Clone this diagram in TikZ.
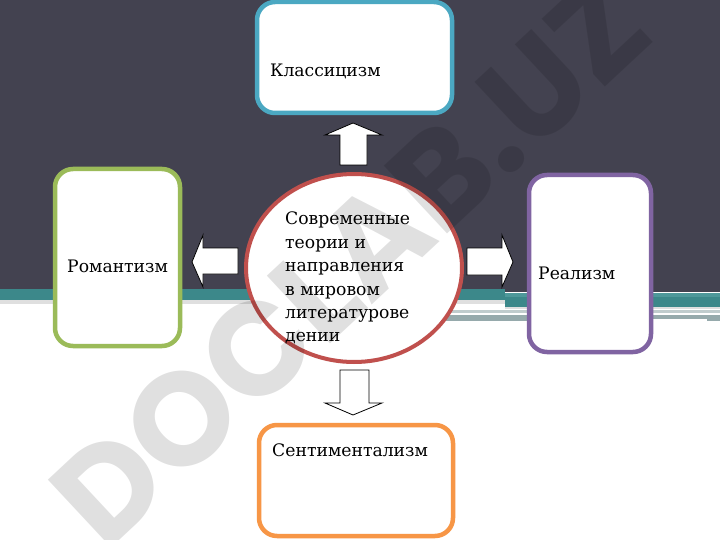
\documentclass[tikz,border=0pt]{standalone}
\usepackage{fontspec}
\setmainfont{DejaVu Serif}
\newfontfamily\wmfont{Poppins}
\usetikzlibrary{shapes.geometric}
\definecolor{bgdark}{RGB}{67,66,80}
\definecolor{bandteal}{RGB}{60,136,138}
\definecolor{bandteallight}{RGB}{78,152,154}
\definecolor{stripegray}{RGB}{150,170,172}
\definecolor{cklass}{RGB}{75,168,194}
\definecolor{cromant}{RGB}{155,187,89}
\definecolor{creal}{RGB}{128,100,162}
\definecolor{csent}{RGB}{247,150,70}
\definecolor{ccenter}{RGB}{192,80,77}
\tikzset{
  box/.style={draw, line width=4.5pt, rounded corners=18pt, fill=white, inner sep=0pt},
  lbl/.style={anchor=base west, inner sep=0pt, font=\fontsize{17.2}{23.4}\selectfont},
  blockarrow/.style={draw=black, line width=0.8pt, fill=white, line join=miter},
}
\begin{document}
\begin{tikzpicture}[x=1pt,y=-1pt]
\useasboundingbox (0,0) rectangle (720,540);
% background
\fill[white] (0,0) rectangle (720,540);
\fill[bgdark] (0,0) rectangle (720,292);
\fill[gray!25] (0,299) rectangle (505,304);
\fill[bandteal] (0,289) rectangle (505,300);
\fill[gray!25] (505,306) rectangle (720,309);
\fill[bandteal] (505,293) rectangle (720,307);
\fill[bandteallight] (505,293) rectangle (720,297);
\fill[stripegray!60] (310,310) rectangle (720,313);
\fill[stripegray] (310,315) rectangle (720,321);
\fill[white] (647,319) rectangle (707,320.5);
% boxes
\node[box, draw=cklass, minimum width=195pt, minimum height=111pt] (klass) at (354.5,57.5) {};
\node[box, draw=cromant, minimum width=125pt, minimum height=177pt] (romant) at (117.5,257.5) {};
\node[box, draw=creal, minimum width=122pt, minimum height=177pt] (real) at (590,263.5) {};
\node[box, draw=csent, minimum width=194pt, minimum height=111pt] (sent) at (356,480.5) {};
\node[ellipse, draw=ccenter, line width=4pt, fill=white, minimum width=216pt, minimum height=188pt, inner sep=0pt] (center) at (354,268) {};
% labels
\node[lbl] (tklass) at (270,77) {Классицизм};
\node[lbl] (tromant) at (67,272) {Романтизм};
\node[lbl] (treal) at (538,279) {Реализм};
\node[lbl] (tsent) at (272,456) {Сентиментализм};
\node[lbl, align=left, anchor=north west] (tcenter) at (285,212) {Современные\\теории и\\направления\\в мировом\\литературове\\дении};
% block arrows
\draw[blockarrow] (353,123) -- (382,135) -- (367,135) -- (367,165) -- (340,165) -- (340,135) -- (325,135) -- cycle;
\draw[blockarrow] (340,370) -- (369,370) -- (369,403) -- (382,403) -- (353,415) -- (325,403) -- (340,403) -- cycle;
\draw[blockarrow] (192,262) -- (203,235) -- (203,248) -- (238,248) -- (238,274) -- (203,274) -- (203,287) -- cycle;
\draw[blockarrow] (467,248) -- (502,248) -- (502,235) -- (513,262) -- (502,287) -- (502,275) -- (467,275) -- cycle;
% watermark
\node[rotate=43, text=black, opacity=0.12, font=\wmfont\bfseries\fontsize{132}{132}\selectfont, inner sep=0pt] (wm) at (350,262) {DOCLAB.UZ};
\end{tikzpicture}
\end{document}
